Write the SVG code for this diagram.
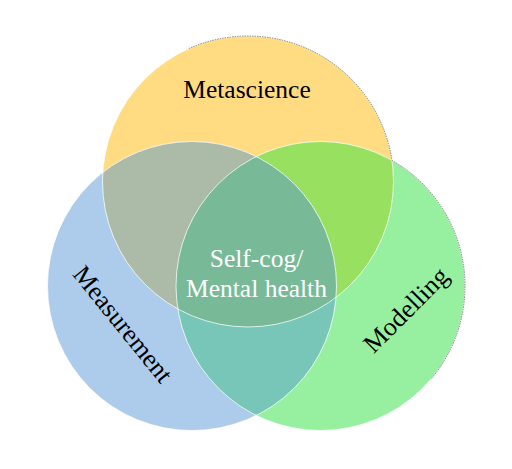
<svg xmlns="http://www.w3.org/2000/svg" width="512" height="469" viewBox="0 0 512 469">
<style>
  .lbl { font-family: "Liberation Serif", "Times New Roman", serif; font-size: 25.5px; text-anchor: middle; fill: #000; }
  .ctr { font-family: "Liberation Serif", "Times New Roman", serif; font-size: 25.5px; text-anchor: middle; fill: #fff; }
  .edge { fill: none; stroke: #fff; stroke-opacity: 0.75; stroke-width: 1; }
  .rim { fill: none; stroke: #555; stroke-width: 0.7; stroke-dasharray: 1.5 1; }
</style>
<defs>
  <clipPath id="cT"><circle cx="248" cy="181.5" r="145.5"/></clipPath>
  <clipPath id="cL"><circle cx="192" cy="286" r="144.5"/></clipPath>
  <clipPath id="cR"><circle cx="320.5" cy="286" r="144.5"/></clipPath>
</defs>
<rect width="512" height="469" fill="#fff"/>
<g id="metascience">
  <circle cx="248" cy="181.5" r="145.5" fill="#FFDC82"/>
</g>
<g id="measurement">
  <circle cx="192" cy="286" r="144.5" fill="#ADCBEA"/>
</g>
<g id="modelling">
  <circle cx="320.5" cy="286" r="144.5" fill="#96F0A0"/>
</g>
<g id="overlaps">
  <circle cx="192" cy="286" r="144.5" fill="#ABBBA8" clip-path="url(#cT)"/>
  <circle cx="320.5" cy="286" r="144.5" fill="#98E060" clip-path="url(#cT)"/>
  <circle cx="320.5" cy="286" r="144.5" fill="#78C6B8" clip-path="url(#cL)"/>
  <g clip-path="url(#cT)">
    <circle cx="320.5" cy="286" r="144.5" fill="#78BA98" clip-path="url(#cL)"/>
  </g>
</g>
<g id="edges">
  <circle class="edge" cx="248" cy="181.5" r="145.5"/>
  <circle class="edge" cx="192" cy="286" r="144.5"/>
  <circle class="edge" cx="320.5" cy="286" r="144.5"/>
  <path class="rim" d="M188.8,48.6 A145.5,145.5 0 0 1 391.9,160.4"/>
  <path class="rim" d="M391.9,160.4 A144.5,144.5 0 0 1 431.2,378.9"/>
</g>
<g id="labels">
  <text class="lbl" x="247" y="98">Metascience</text>
  <text class="lbl" transform="translate(122,325) rotate(51)" x="0" y="7.3" style="font-size:26px">Measurement</text>
  <text class="lbl" transform="translate(407,311) rotate(-45)" x="0" y="7" style="font-size:26px">Modelling</text>
  <text class="ctr" x="256.5" y="267">Self-cog/</text>
  <text class="ctr" x="256.5" y="297">Mental health</text>
</g>
</svg>
